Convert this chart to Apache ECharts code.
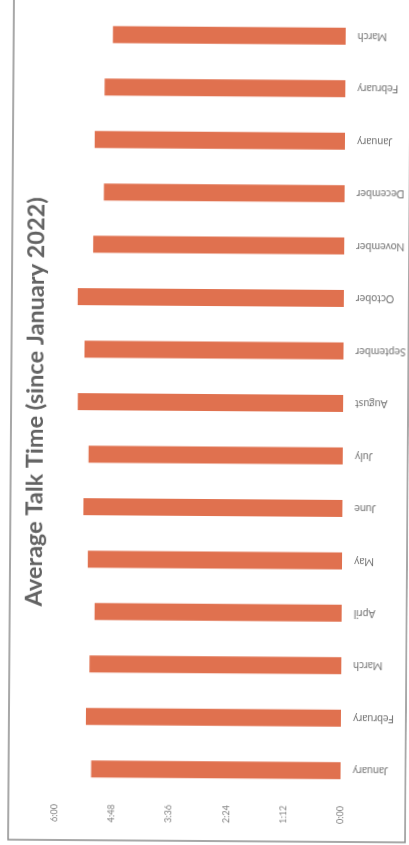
<!DOCTYPE html>
<html>
<head>
<meta charset="utf-8">
<script src="https://cdn.jsdelivr.net/npm/echarts@6/dist/echarts.min.js"></script>
<style>
  html, body { margin: 0; padding: 0; background: #ffffff; overflow: hidden; }
  #chart { width: 409px; height: 845px; transform: rotate(0.4deg); transform-origin: 50% 50%; }
</style>
</head>
<body>
<div id="chart"></div>
<script>
// Months since January 2022
const months = ['January', 'February', 'March', 'April', 'May', 'June', 'July', 'August',
  'September', 'October', 'November', 'December', 'January', 'February', 'March'];
// Average talk time per month, in seconds
const talkSeconds = [314, 321, 317, 311, 320, 326, 320, 334, 326, 335, 316, 303, 315, 303, 293];
// Value axis range and step, in seconds (0:00 .. 6:00 every 1:12)
const axisMax = 360;
const axisStep = 72;
const chartTitle = 'Average Talk Time (since January 2022)';

function mmss(v) {
  const m = Math.floor(v / 60);
  const s = Math.round(v % 60);
  return m + ':' + String(s).padStart(2, '0');
}

const chart = echarts.init(document.getElementById('chart'), null, { renderer: 'canvas' });
chart.setOption({
  animation: false,
  backgroundColor: '#ffffff',
  grid: { left: 57, right: 66, top: 9, bottom: 49, containLabel: false },
  xAxis: {
    type: 'value',
    inverse: true,
    min: 0,
    max: axisMax,
    interval: axisStep,
    axisLine: { show: false },
    axisTick: { show: false },
    splitLine: { show: false },
    axisLabel: {
      rotate: 90,
      margin: 9,
      fontSize: 9,
      fontFamily: 'Lato',
      color: '#7f7f7f',
      formatter: mmss
    }
  },
  yAxis: {
    type: 'category',
    position: 'right',
    data: months,
    axisLine: { show: false },
    axisTick: { show: false },
    splitLine: { show: false },
    axisLabel: {
      rotate: 180,
      margin: 12,
      fontSize: 10.5,
      fontFamily: 'Lato',
      color: '#747474'
    }
  },
  series: [{
    type: 'bar',
    data: talkSeconds,
    barWidth: 17,
    itemStyle: { color: '#E0714F' }
  }],
  graphic: [
    {
      type: 'rect',
      silent: true,
      shape: { x: 11, y: -4, width: 397, height: 845 },
      style: { fill: 'none', stroke: '#8c8c8c', lineWidth: 1.5 }
    },
    {
      type: 'text',
      x: 35,
      y: 403,
      rotation: Math.PI / 2,
      style: {
        text: chartTitle,
        fontSize: 23.5,
        fontWeight: 'bold',
        fontFamily: 'Lato',
        fill: '#626262',
        align: 'center',
        verticalAlign: 'middle'
      }
    }
  ]
});
</script>
</body>
</html>
